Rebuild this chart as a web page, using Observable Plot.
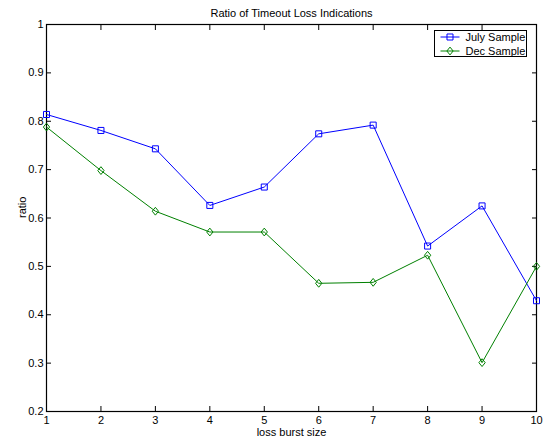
<!DOCTYPE html>
<html>
<head>
<meta charset="utf-8">
<script src="https://cdn.jsdelivr.net/npm/d3@7"></script>
<script src="https://cdn.jsdelivr.net/npm/@observablehq/plot@0.6"></script>
<style>
  html, body { margin: 0; padding: 0; background: #fff; }
  #chart { width: 548px; height: 441px; }
</style>
</head>
<body>
<div id="chart"></div>
<script>
// ---- data ----
const burstSizes = [1, 2, 3, 4, 5, 6, 7, 8, 9, 10];
const julySample = [0.814, 0.781, 0.743, 0.626, 0.664, 0.774, 0.792, 0.542, 0.625, 0.429];
const decSample  = [0.788, 0.698, 0.614, 0.571, 0.571, 0.465, 0.467, 0.523, 0.301, 0.500];
const seriesNames = ["July Sample", "Dec Sample"];
const seriesColors = ["#0000ff", "#008000"];
const xTicks = [1, 2, 3, 4, 5, 6, 7, 8, 9, 10];
const yTicks = [0.2, 0.3, 0.4, 0.5, 0.6, 0.7, 0.8, 0.9, 1];
const titleText = "Ratio of Timeout Loss Indications";
const xLabel = "loss burst size";
const yLabel = "ratio";

const july = burstSizes.map((x, i) => ({x, y: julySample[i]}));
const dec = burstSizes.map((x, i) => ({x, y: decSample[i]}));

// MATLAB-like diamond (slightly taller than wide)
const diamondSym = {
  draw(context, size) {
    const s = Math.sqrt(size / Math.PI);
    context.moveTo(0, -s * 1.3);
    context.lineTo(s * 1.05, 0);
    context.lineTo(0, s * 1.3);
    context.lineTo(-s * 1.05, 0);
    context.closePath();
  }
};

const fmt = d => String(d);

const chart = Plot.plot({
  width: 548,
  height: 441,
  marginLeft: 46,
  marginRight: 12,
  marginTop: 24,
  marginBottom: 30,
  style: {fontFamily: "'Liberation Sans', Arial, sans-serif", fontSize: "11px", background: "#fff", color: "#000"},
  x: {domain: [1, 10]},
  y: {domain: [0.2, 1]},
  marks: [
    Plot.frame({stroke: "#000", strokeWidth: 1.2}),
    // inward ticks on all four sides
    Plot.axisX({ticks: xTicks, anchor: "bottom", tickSize: -5, tickFormat: () => "", label: null}),
    Plot.axisX({ticks: xTicks, anchor: "top", tickSize: -5, tickFormat: () => "", label: null}),
    Plot.axisY({ticks: yTicks, anchor: "left", tickSize: -5, tickFormat: () => "", label: null}),
    Plot.axisY({ticks: yTicks, anchor: "right", tickSize: -5, tickFormat: () => "", label: null}),
    // tick labels
    Plot.axisX({ticks: xTicks, anchor: "bottom", tickSize: 0, tickPadding: 5, tickFormat: fmt, label: null}),
    Plot.axisY({ticks: yTicks, anchor: "left", tickSize: 0, tickPadding: 3, tickFormat: fmt, label: null}),
    // series
    Plot.line(july, {x: "x", y: "y", stroke: seriesColors[0], strokeWidth: 1}),
    Plot.dot(july, {x: "x", y: "y", stroke: seriesColors[0], fill: "none", symbol: "square", r: 3.4, strokeWidth: 1}),
    Plot.line(dec, {x: "x", y: "y", stroke: seriesColors[1], strokeWidth: 1}),
    Plot.dot(dec, {x: "x", y: "y", stroke: seriesColors[1], fill: "none", symbol: diamondSym, r: 3, strokeWidth: 1}),
    // labels
    Plot.text([titleText], {frameAnchor: "top", dy: -7.5, lineAnchor: "bottom", text: d => d, fill: "#000"}),
    Plot.text([xLabel], {frameAnchor: "bottom", dy: 24.5, lineAnchor: "bottom", text: d => d, fill: "#000"}),
    Plot.text([yLabel], {frameAnchor: "left", dx: -21, rotate: -90, lineAnchor: "bottom", text: d => d, fill: "#000"})
  ]
});

document.getElementById("chart").appendChild(chart);

// legend box (top-right, inside the axes)
const svg = d3.select(chart);
const lg = svg.append("g").attr("transform", "translate(434.5,30.5)");
lg.append("rect").attr("width", 92).attr("height", 26).attr("fill", "#fff").attr("stroke", "#000");
const symbols = [d3.symbol(d3.symbolSquare, 3.4 * 3.4 * Math.PI), d3.symbol(diamondSym, 3 * 3 * Math.PI)];
seriesNames.forEach((name, i) => {
  const cy = 6.5 + i * 14;
  lg.append("line").attr("x1", 6).attr("x2", 25).attr("y1", cy).attr("y2", cy)
    .attr("stroke", seriesColors[i]).attr("stroke-width", 1);
  lg.append("path").attr("d", symbols[i]()).attr("transform", `translate(15.5,${cy})`)
    .attr("fill", "none").attr("stroke", seriesColors[i]);
  lg.append("text").attr("x", 31).attr("y", cy + 4).attr("fill", "#000")
    .attr("text-anchor", "start")
    .attr("font-family", "'Liberation Sans', Arial, sans-serif").attr("font-size", 11).text(name);
});
</script>
</body>
</html>
